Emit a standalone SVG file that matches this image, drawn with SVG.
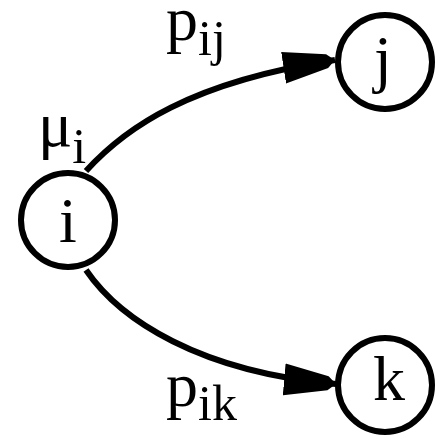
<svg xmlns="http://www.w3.org/2000/svg" width="445" height="443" viewBox="0 0 445 443">
<style>
.node circle{fill:#fff;stroke:#000;stroke-width:6}
.edge{fill:none;stroke:#000;stroke-width:6}
text{font-family:"Liberation Serif","Times New Roman",serif;fill:#000}
.nl{font-size:64px;text-anchor:middle}
.lb{font-size:64px}
.sb{font-size:50px}
</style>
<defs>
<marker id="ah" markerUnits="userSpaceOnUse" markerWidth="56" markerHeight="36" refX="52" refY="17" orient="auto">
<path d="M0,1 L44,10 L52,17 L44,24 L0,33 z" fill="#000"/>
</marker>
</defs>
<g id="edges">
<path class="edge" d="M86,171 C125,128 190,82 335,60" marker-end="url(#ah)"/>
<path class="edge" d="M86,270 C120,320 200,372 336,384" marker-end="url(#ah)"/>
</g>
<g id="node-i" class="node"><circle cx="68" cy="220" r="47"/><text class="nl" x="68" y="242">i</text></g>
<g id="node-j" class="node"><circle cx="385" cy="62" r="47"/><text class="nl" x="383" y="80">j</text></g>
<g id="node-k" class="node"><circle cx="385" cy="385" r="47"/><text class="nl" x="389" y="400">k</text></g>
<g id="labels">
<text class="lb" x="166" y="40">p<tspan class="sb" dy="15">ij</tspan></text>
<text class="lb" x="38" y="146">μ<tspan class="sb" dy="17">i</tspan></text>
<text class="lb" x="166" y="406">p<tspan class="sb" dy="14">ik</tspan></text>
</g>
</svg>
